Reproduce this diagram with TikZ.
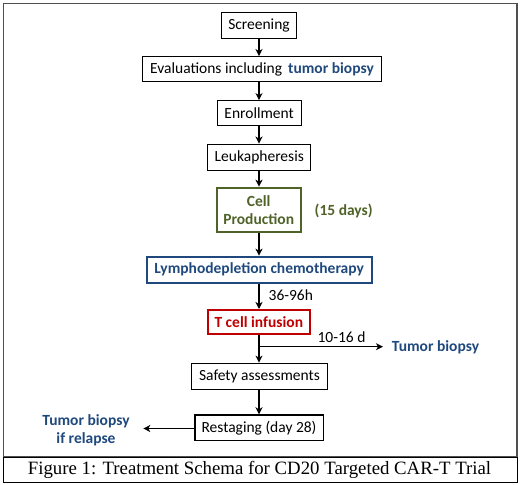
\documentclass[tikz,border=0pt]{standalone}
\usepackage{fontspec}
\setmainfont{Carlito}
\newfontfamily\capfont{Liberation Serif}
\usetikzlibrary{arrows.meta}
\definecolor{dblue}{RGB}{31,73,125}
\definecolor{dgreen}{RGB}{79,98,40}
\definecolor{dred}{RGB}{192,0,0}
\definecolor{framegray}{RGB}{80,80,80}
\begin{document}
\begin{tikzpicture}[x=1pt,y=-1pt,
  txt/.style={inner sep=0pt, font=\fontsize{15.5}{18.3}\selectfont, align=center},
  box/.style={txt, draw, line width=1.3pt},
  cbox/.style={txt, draw, line width=2pt, font=\fontsize{15.5}{18.3}\selectfont\bfseries},
  arr/.style={-{Stealth[length=7pt,width=7pt,inset=2pt]}, line width=1.3pt},
  blab/.style={txt, font=\fontsize{15.5}{18.3}\selectfont\bfseries, text=dblue}]
\useasboundingbox (0,0) rectangle (520,485);
\draw[line width=1.5pt, framegray] (3.5,3.5) rectangle (517,457);
\draw[line width=0.8pt] (3.5,457) rectangle (517,482);

\node[box, minimum width=75pt, minimum height=25.6pt] (scr) at (259,25.5) {Screening};
\node[box, minimum width=239pt, minimum height=25pt] (ev) at (262,69.2)
  {Evaluations including\hspace{6pt}{\bfseries\color{dblue}tumor biopsy}};
\node[box, minimum width=84pt, minimum height=25pt] (en) at (259.2,113.3) {Enrollment};
\node[box, minimum width=103pt, minimum height=26pt] (lk) at (259.3,157.2) {Leukapheresis};
\node[cbox, draw=dgreen, text=dgreen, minimum width=84pt, minimum height=44.6pt] (cp) at (258.7,210) {Cell\\Production};
\node[txt, font=\fontsize{15.5}{18.3}\selectfont\bfseries, text=dgreen] (fd) at (343.7,210.7) {(15 days)};
\node[cbox, draw=dblue, text=dblue, minimum width=225pt, minimum height=26pt] (ly) at (259.2,269.7) {Lymphodepletion chemotherapy};
\node[txt] (h) at (290.8,295) {36-96h};
\node[cbox, draw=dred, text=dred, minimum width=102pt, minimum height=24pt] (tc) at (258.8,322) {T cell infusion};
\node[txt] (d) at (341.5,336.7) {10-16 d};
\node[blab] (tb) at (435.5,347.7) {Tumor biopsy};
\node[box, minimum width=135.6pt, minimum height=26pt] (sa) at (259.5,376.3) {Safety assessments};
\node[box, minimum width=128.3pt, minimum height=25.7pt] (rs) at (259,427.8) {Restaging (day 28)};
\node[blab] (tbr) at (86,430) {Tumor biopsy\\if relapse};
\node[font=\capfont\fontsize{18.8}{21}\selectfont, inner sep=0pt] (cap) at (259.5,469.5) {Figure 1: Treatment Schema for CD20 Targeted CAR-T Trial};

\coordinate (br) at (259,346.7);
\coordinate (ra) at (383,346.7);
\coordinate (la) at (143.3,428.5);

\draw[arr] (259,0 |- scr.south) -- (259,0 |- ev.north);
\draw[arr] (259,0 |- ev.south) -- (259,0 |- en.north);
\draw[arr] (259,0 |- en.south) -- (259,0 |- lk.north);
\draw[arr] (259,0 |- lk.south) -- (259,0 |- cp.north);
\draw[arr] (259,0 |- cp.south) -- (259,0 |- ly.north);
\draw[arr] (259,0 |- ly.south) -- (259,0 |- tc.north);
\draw[arr] (259,0 |- tc.south) -- (259,0 |- sa.north);
\draw[arr] (br) -- (ra);
\draw[arr] (259,0 |- sa.south) -- (259,0 |- rs.north);
\draw[arr] (rs.west |- la) -- (la);
\end{tikzpicture}
\end{document}
